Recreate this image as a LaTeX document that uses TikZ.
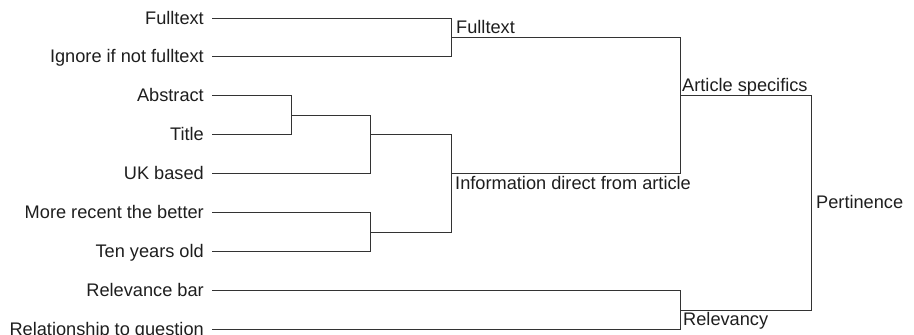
\documentclass[tikz,border=0pt]{standalone}
\usepackage{fontspec}
\setmainfont{Liberation Sans}
\definecolor{txt}{HTML}{1E1E1E}
\definecolor{ln}{HTML}{333333}
\begin{document}
\begin{tikzpicture}[x=1pt,y=-1pt,
  leaf/.style={anchor=base east,inner sep=0pt,text=txt,font=\fontsize{18.2}{20}\selectfont},
  lab/.style={anchor=base west,inner sep=0pt,text=txt,font=\fontsize{18.2}{20}\selectfont},
  br/.style={draw=ln,line width=1.1pt,line join=miter}]
\useasboundingbox (0,0) rectangle (914,335);
% leaf line starts
\coordinate (a1) at (212,18.5);
\coordinate (a2) at (212,56.5);
\coordinate (a3) at (212,95.5);
\coordinate (a4) at (212,134.5);
\coordinate (a5) at (212,173.5);
\coordinate (a6) at (212,212.5);
\coordinate (a7) at (212,251.5);
\coordinate (a8) at (212,290.5);
\coordinate (a9) at (212,329.5);
% leaf labels
\node[leaf] (n1) at (204,24.5) {Fulltext};
\node[leaf] (n2) at (204,62.5) {Ignore if not fulltext};
\node[leaf] (n3) at (204,101.5) {Abstract};
\node[leaf] (n4) at (204,140.5) {Title};
\node[leaf] (n5) at (204,179.5) {UK based};
\node[leaf] (n6) at (204,218.5) {More recent the better};
\node[leaf] (n7) at (204,257.5) {Ten years old};
\node[leaf] (n8) at (204,296.5) {Relevance bar};
\node[leaf] (n9) at (204,335.5) {Relationship to question};
% junctions
\coordinate (jF) at (451.5,37.5);
\coordinate (jAT) at (291.5,115.5);
\coordinate (jATU) at (370.5,134.5);
\coordinate (jMT) at (370.5,232.5);
\coordinate (jInfo) at (451.5,173.5);
\coordinate (jArt) at (680.5,95.5);
\coordinate (jRel) at (680.5,310.5);
\coordinate (jPert) at (811.5,203);
% brackets
\draw[br] (a1) -| (jF) |- (a2);
\draw[br] (a3) -| (jAT) |- (a4);
\draw[br] (jAT) -| (jATU) |- (a5);
\draw[br] (a6) -| (jMT) |- (a7);
\draw[br] (jATU) -| (jInfo) |- (jMT);
\draw[br] (jF) -| (jArt) |- (jInfo);
\draw[br] (a8) -| (jRel) |- (a9);
\draw[br] (jArt) -| (jPert) |- (jRel);
% cluster labels
\node[lab] (lF) at (456,33.5) {Fulltext};
\node[lab] (lArt) at (682,91.5) {Article specifics};
\node[lab] (lInfo) at (455,189.3) {Information direct from article};
\node[lab] (lRel) at (683,325) {Relevancy};
\node[lab] (lPert) at (816,208.3) {Pertinence};
\end{tikzpicture}
\end{document}
